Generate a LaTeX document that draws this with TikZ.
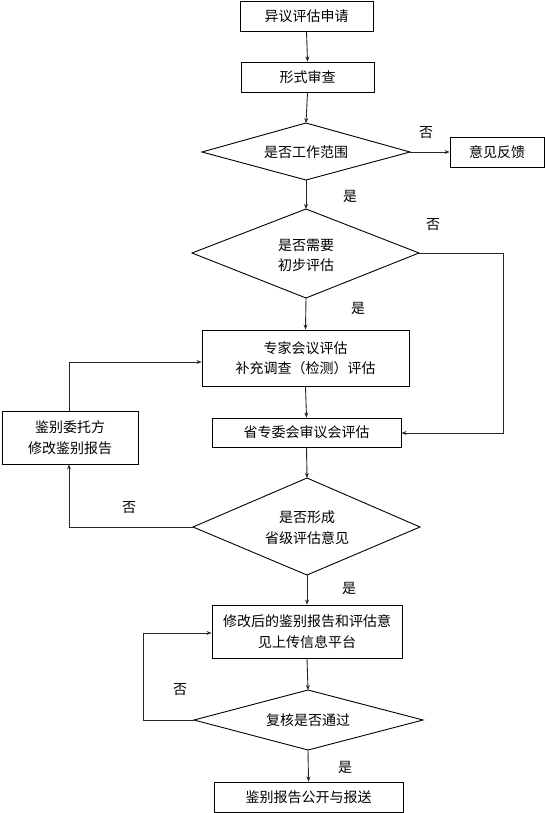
\documentclass[tikz,border=0pt]{standalone}
\usepackage{fontspec}
\setmainfont{Noto Sans CJK SC}
\usetikzlibrary{arrows.meta}
\begin{document}
\begin{tikzpicture}[x=1pt,y=-1pt,
  every node/.style={font=\fontsize{14}{20.5}\selectfont},
  box/.style={draw, line width=0.9pt, inner sep=0pt, align=center},
  lbl/.style={inner sep=0pt, align=center},
  ln/.style={line width=0.9pt, draw=black!85},
  arr/.style={ln, -{Stealth[length=5pt,width=4pt]}}]
\useasboundingbox (0,0) rectangle (545,813);
% boxes
\node[box, minimum width=133pt, minimum height=30pt] (b1) at (306.5,16) {异议评估申请};
\node[box, minimum width=133pt, minimum height=30pt] (b2) at (307.5,77) {形式审查};
\node[box, minimum width=94pt, minimum height=30pt] (fb) at (497,152) {意见反馈};
\node[box, minimum width=207pt, minimum height=56pt] (b3) at (305.5,358) {专家会议评估\\补充调查（检测）评估};
\node[box, minimum width=189pt, minimum height=29pt] (b4) at (306.5,432.5) {省专委会审议会评估};
\node[box, minimum width=136pt, minimum height=53pt] (lb) at (70,437.5) {鉴别委托方\\修改鉴别报告};
\node[box, minimum width=190pt, minimum height=53pt] (b5) at (307,631.5) {修改后的鉴别报告和评估意\\见上传信息平台};
\node[box, minimum width=189pt, minimum height=30pt] (b6) at (308.5,797) {鉴别报告公开与报送};
% diamonds
\coordinate (d1l) at (202,152); \coordinate (d1r) at (410,152);
\coordinate (d1t) at (306,123); \coordinate (d1b) at (306,180);
\draw[line width=0.9pt] (d1l) -- (d1t) -- (d1r) -- (d1b) -- cycle;
\node[lbl] (d1) at (306,152) {是否工作范围};
\coordinate (d2l) at (192,253); \coordinate (d2r) at (419,253);
\coordinate (d2t) at (306,209); \coordinate (d2b) at (306,298);
\draw[line width=0.9pt] (d2l) -- (d2t) -- (d2r) -- (d2b) -- cycle;
\node[lbl] (d2) at (306,255.5) {是否需要\\初步评估};
\coordinate (d3l) at (193,527); \coordinate (d3r) at (420,527);
\coordinate (d3t) at (307,478); \coordinate (d3b) at (307,575);
\draw[line width=0.9pt] (d3l) -- (d3t) -- (d3r) -- (d3b) -- cycle;
\node[lbl] (d3) at (307,527.5) {是否形成\\省级评估意见};
\coordinate (d4l) at (194,720); \coordinate (d4r) at (423,720);
\coordinate (d4t) at (308,690); \coordinate (d4b) at (308,750);
\draw[line width=0.9pt] (d4l) -- (d4t) -- (d4r) -- (d4b) -- cycle;
\node[lbl] (d4) at (308,720) {复核是否通过};
% connectors
\draw[arr] (b1.south) -- (b2.north);
\draw[arr] (b2.south) -- (d1t);
\draw[arr] (d1r) -- (fb.west);
\draw[arr] (d1b) -- (d2t);
\draw[arr] (d2b) -- (b3.north);
\draw[arr] (b3.south) -- (b4.north);
\coordinate (c1) at (503,253); \coordinate (c2) at (503,433);
\draw[arr] (d2r) -- (c1) -- (c2) -- (b4.east |- c2);
\draw[arr] (b4.south) -- (d3t);
\coordinate (c3) at (69,527);
\draw[arr] (d3l) -- (c3) -- (c3 |- lb.south);
\coordinate (c4) at (69,362);
\draw[arr] (c4 |- lb.north) -- (c4) -- (b3.west |- c4);
\draw[arr] (d3b) -- (b5.north);
\draw[arr] (b5.south) -- (d4t);
\coordinate (c6) at (143,720); \coordinate (c7) at (143,633);
\draw[arr] (d4l) -- (c6) -- (c7) -- (b5.west |- c7);
\draw[arr] (d4b) -- (b6.north);
% labels
\node[lbl] (n1) at (426,133) {否};
\node[lbl] (y1) at (350,196) {是};
\node[lbl] (n2) at (433,225) {否};
\node[lbl] (y2) at (358,308) {是};
\node[lbl] (n3) at (129,508) {否};
\node[lbl] (y3) at (349,588) {是};
\node[lbl] (n4) at (180,690) {否};
\node[lbl] (y4) at (345,767) {是};
\end{tikzpicture}
\end{document}
